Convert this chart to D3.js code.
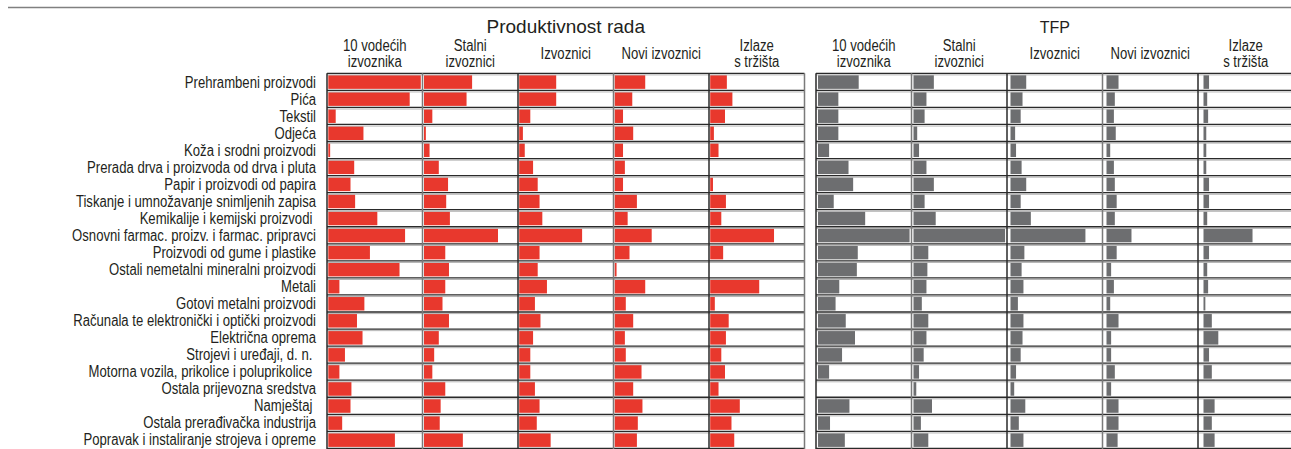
<!DOCTYPE html>
<html>
<head>
<meta charset="utf-8">
<script src="https://cdn.jsdelivr.net/npm/d3@7"></script>
<style>
  html, body { margin: 0; padding: 0; background: #fff; }
  svg { display: block; }
  .lbl { font-family: "Liberation Sans", Arial, Helvetica, sans-serif; font-size: 16px; fill: #231f20; white-space: pre; }
  .ttl { font-family: "Liberation Sans", Arial, Helvetica, sans-serif; fill: #231f20; }
</style>
</head>
<body>
<svg id="chart" width="1291" height="449"></svg>
<script>
// ---------- DATA ----------
const categories = [
  "Prehrambeni proizvodi",
  "Pića",
  "Tekstil",
  "Odjeća",
  "Koža i srodni proizvodi",
  "Prerada drva i proizvoda od drva i pluta",
  "Papir i proizvodi od papira",
  "Tiskanje i umnožavanje snimljenih zapisa",
  "Kemikalije i kemijski proizvodi ",
  "Osnovni farmac. proizv. i farmac. pripravci",
  "Proizvodi od gume i plastike",
  "Ostali nemetalni mineralni proizvodi",
  "Metali",
  "Gotovi metalni proizvodi",
  "Računala te elektronički i optički proizvodi",
  "Električna oprema",
  "Strojevi i uređaji, d. n. ",
  "Motorna vozila, prikolice i poluprikolice ",
  "Ostala prijevozna sredstva",
  "Namještaj ",
  "Ostala prerađivačka industrija",
  "Popravak i instaliranje strojeva i opreme"
];

const groups = ["10 vodećih|izvoznika", "Stalni|izvoznici", "Izvoznici", "Novi izvoznici", "Izlaze|s tržišta"];
const panelTitles = ["Produktivnost rada", "TFP"];

// Produktivnost rada (relative index, 0–100)
const prodTop10    = [100, 88, 8, 38, 2, 28, 24, 29, 53, 83, 45, 77, 12, 39, 31, 37, 18, 12, 25, 24, 15, 72];
const prodStalni   = [52, 46, 9, 2, 6, 16, 26, 24, 28, 80, 23, 27, 23, 20, 27, 16, 11, 9, 23, 18, 17, 42];
const prodIzvoz    = [40, 40, 12, 4, 6, 15, 20, 22, 25, 68, 22, 20, 30, 17, 23, 15, 12, 12, 17, 22, 19, 34];
const prodNovi     = [33, 19, 9, 20, 9, 11, 9, 24, 14, 40, 16, 2, 33, 12, 20, 11, 12, 29, 20, 30, 25, 24];
const prodIzlaze   = [18, 24, 16, 4, 9, 0, 3, 17, 12, 69, 14, 0, 53, 5, 20, 17, 12, 16, 9, 32, 23, 26];

// TFP (relative index, 0–100)
const tfpTop10     = [44, 22, 22, 22, 12, 33, 38, 17, 51, 99, 43, 42, 23, 19, 30, 40, 26, 12, 0, 34, 13, 29];
const tfpStalni    = [22, 14, 12, 4, 6, 14, 22, 12, 24, 99, 16, 15, 14, 9, 16, 14, 11, 6, 3, 20, 8, 16];
const tfpIzvoz     = [17, 13, 11, 5, 6, 12, 17, 11, 22, 81, 15, 12, 14, 8, 14, 13, 11, 6, 4, 16, 9, 14];
const tfpNovi      = [13, 9, 8, 10, 4, 8, 9, 11, 9, 27, 11, 5, 8, 4, 13, 5, 5, 9, 5, 13, 13, 12];
const tfpIzlaze    = [6, 4, 5, 3, 3, 3, 6, 6, 4, 53, 6, 4, 5, 2, 9, 16, 6, 9, 0, 12, 9, 12];

const prodSeries = [prodTop10, prodStalni, prodIzvoz, prodNovi, prodIzlaze];
const tfpSeries  = [tfpTop10, tfpStalni, tfpIzvoz, tfpNovi, tfpIzlaze];

// ---------- LAYOUT ----------
const svg = d3.select("#chart");
const rowTop = 73.3, rowH = 17.05;
const narrow = 0.82;   // horizontal compression to mimic a condensed face
const y = d3.scaleBand().domain(categories).range([rowTop, rowTop + rowH * categories.length]).padding(0);
const yLab = d3.scalePoint().domain(categories).range([88.2, 88.2 + 17.0 * (categories.length - 1)]);
const colW = 95.5;
const panels = [
  { title: panelTitles[0], x0: 327, series: prodSeries, color: "#e8382d", offs: [1.3, 1.5, 1.2, 1.2, 1.2], titleSize: 19 },
  { title: panelTitles[1], x0: 816, series: tfpSeries,  color: "#6d6e70", offs: [2, 2, 3.5, 4, 5.5], titleSize: 16 }
];
const v = d3.scaleLinear().domain([0, 100]).range([0, 92.5]);

// top rule
svg.append("line").attr("x1", 8).attr("x2", 1291).attr("y1", 7.5).attr("y2", 7.5)
  .attr("stroke", "#808080").attr("stroke-width", 1.5);

// row labels
svg.append("g").selectAll("text").data(categories).join("text")
  .attr("class", "lbl")
  .attr("transform", d => `translate(316,${yLab(d)}) scale(${narrow},1)`)
  .attr("text-anchor", "end")
  .text(d => d);

panels.forEach(p => {
  const x = d3.scaleBand().domain(groups).range([p.x0, p.x0 + colW * groups.length]).padding(0);
  const g = svg.append("g");

  // panel title
  g.append("text").attr("class", "ttl")
    .attr("x", p.x0 + colW * groups.length / 2).attr("y", 33)
    .attr("text-anchor", "middle").attr("font-size", p.titleSize)
    .text(p.title);

  // column headers
  groups.forEach(gr => {
    const lines = gr.split("|");
    const cx = x(gr) + x.bandwidth() / 2;
    const ys = lines.length === 1 ? [59] : [51, 66.5];
    lines.forEach((ln, li) => {
      g.append("text").attr("class", "lbl").attr("text-anchor", "middle")
        .attr("transform", `translate(${cx},${ys[li]}) scale(${narrow},1)`)
        .text(ln);
    });
  });

  // bars
  p.series.forEach((vals, si) => {
    const gr = groups[si];
    g.append("g").selectAll("rect").data(vals.map((val, i) => ({ cat: categories[i], val })))
      .join("rect")
      .attr("x", x(gr) + p.offs[si])
      .attr("y", d => y(d.cat) + 1.8)
      .attr("width", d => v(d.val))
      .attr("height", y.bandwidth() - 3.3)
      .attr("fill", p.color);
  });

  // grid: horizontal row lines
  const xr0 = p.x0, xr1 = p.x0 + colW * groups.length;
  const bounds = categories.map(c => y(c)).concat([y(categories[categories.length - 1]) + y.bandwidth()]);
  g.append("g").selectAll("line.hl").data(bounds).join("line")
    .attr("x1", xr0).attr("x2", xr1)
    .attr("y1", d => d + 1.6).attr("y2", d => d + 1.6)
    .attr("stroke", "#b4b4b4").attr("stroke-width", 1);
  g.append("g").selectAll("line.h").data(bounds).join("line")
    .attr("x1", xr0).attr("x2", xr1)
    .attr("y1", d => d).attr("y2", d => d)
    .attr("stroke", "#2a2a2a").attr("stroke-width", 1.3);

  // vertical column lines
  const vx = groups.map(gr => x(gr)).concat([xr1]);
  g.append("g").selectAll("line.v").data(vx).join("line")
    .attr("x1", d => d).attr("x2", d => d)
    .attr("y1", rowTop).attr("y2", 449)
    .attr("stroke", (d, i) => i % 2 ? "#7a7a7a" : "#2a2a2a").attr("stroke-width", 1.5);
});
</script>
</body>
</html>
